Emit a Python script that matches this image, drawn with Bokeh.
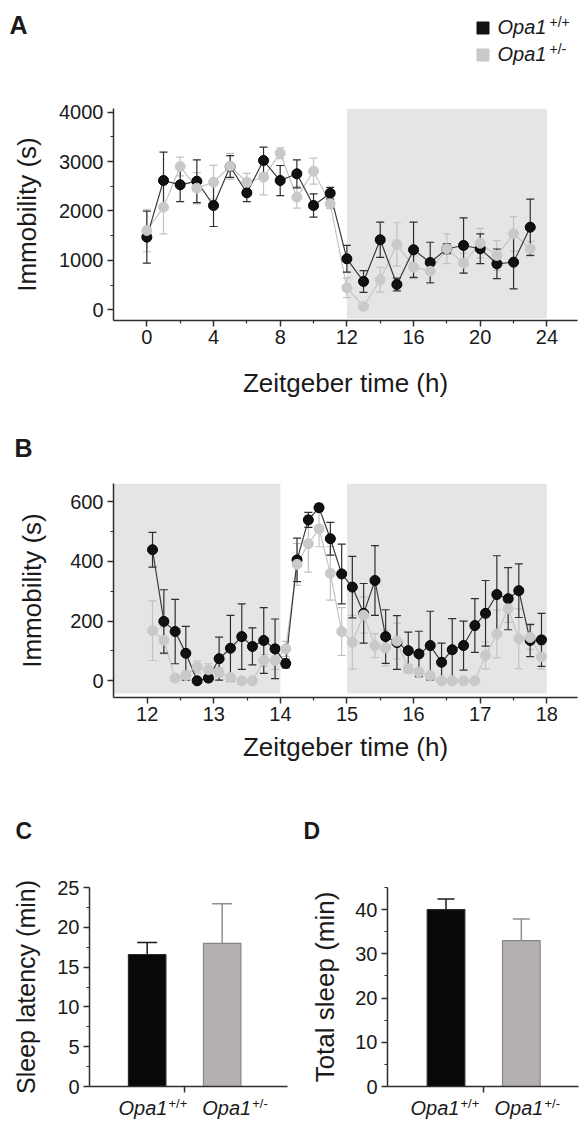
from bokeh.plotting import figure
from bokeh.models import FixedTicker
from bokeh.layouts import column, row
from bokeh.embed import file_html
from bokeh.resources import INLINE
from bokeh.core.properties import value

FONT = "Liberation Sans"

# ---------------- data ----------------
# Panel A: hourly immobility (s)
hours_a = [0, 1, 2, 3, 4, 5, 6, 7, 8, 9, 10, 11, 12, 13, 14, 15, 16, 17, 18, 19, 20, 21, 22, 23]
wt_a = [1470, 2617, 2530, 2603, 2111, 2900, 2368, 3022, 2617, 2753, 2111, 2360,
        1032, 573, 1417, 512, 1215, 957, 1235, 1302, 1235, 931, 964, 1672]
wt_a_err = [527, 573, 340, 433, 425, 220, 180, 270, 304, 283, 237, 120,
            270, 220, 356, 130, 560, 410, 100, 560, 300, 300, 540, 570]
het_a = [1605, 2077, 2901, 2462, 2583, 2907, 2583, 2684, 3170, 2279, 2806, 2146,
         445, 67, 607, 1322, 862, 781, 1235, 944, 1348, 1099, 1538, 1235]
het_a_err = [430, 540, 190, 316, 340, 260, 180, 356, 110, 220, 263, 100,
             200, 50, 250, 440, 230, 250, 300, 200, 300, 300, 350, 150]
ticks_a_x = [0, 4, 8, 12, 16, 20, 24]
ticks_a_y = [0, 1000, 2000, 3000, 4000]
dark_a = [(12, 24)]

# Panel B: 10-min bins, ZT12-18
times_b = [12.08, 12.25, 12.42, 12.58, 12.75, 12.92, 13.08, 13.25, 13.42, 13.58, 13.75, 13.92,
           14.08, 14.25, 14.42, 14.58, 14.75, 14.92, 15.08, 15.25, 15.42, 15.58, 15.75, 15.92,
           16.08, 16.25, 16.42, 16.58, 16.75, 16.92, 17.08, 17.25, 17.42, 17.58, 17.75, 17.92]
wt_b = [439, 199, 165, 92, 0, 9, 74, 109, 148, 115, 135, 107,
        58, 405, 539, 580, 476, 358, 314, 226, 336, 148, 128, 101,
        90, 118, 62, 104, 118, 185, 226, 289, 275, 302, 135, 137]
wt_b_err = [58, 106, 108, 90, 5, 10, 72, 110, 110, 62, 110, 100,
            15, 73, 25, 12, 55, 100, 103, 100, 117, 90, 90, 62,
            76, 115, 64, 104, 82, 90, 110, 130, 104, 90, 54, 89]
het_b = [168, 135, 9, 18, 46, 37, 28, 11, 0, 0, 68, 68,
         107, 390, 459, 509, 360, 165, 129, 220, 118, 110, 133, 40,
         29, 18, 0, 0, 0, 0, 85, 157, 241, 141, 145, 80]
het_b_err = [100, 45, 10, 15, 20, 20, 15, 10, 5, 5, 20, 30,
             25, 70, 95, 60, 90, 80, 90, 60, 40, 60, 60, 15,
             12, 10, 5, 5, 5, 5, 45, 80, 45, 100, 40, 40]
ticks_b_x = [12, 13, 14, 15, 16, 17, 18]
ticks_b_y = [0, 200, 400, 600]
dark_b = [(11.5, 14), (15, 18)]

# Panels C and D: bars
groups = ["Opa1", "Opa1"]
genotypes = ["+/+", "+/-"]
latency = [16.6, 18.0]
latency_err = [1.5, 5.0]
total_sleep = [40.0, 33.0]
total_sleep_err = [2.4, 4.9]
ticks_c_y = [0, 5, 10, 15, 20, 25]
ticks_d_y = [0, 10, 20, 30, 40]

BLACK = "#111111"
GRAY = "#c9c9c9"
SHADE = "#e7e5e4"
AXC = "#2e2e2e"
TXT = "#1a1a1a"


def no_align(p):
    try:
        p.frame_align = False
    except Exception:
        pass


def make_fig(w, h, xr, yr, left, right, top, bottom):
    p = figure(width=w, height=h, x_range=xr, y_range=yr, output_backend="svg",
               toolbar_location=None, title=None,
               min_border_left=left, min_border_right=right,
               min_border_top=top, min_border_bottom=bottom)
    no_align(p)
    p.xgrid.visible = False
    p.ygrid.visible = False
    p.outline_line_color = None
    for ax in (p.xaxis[0], p.yaxis[0]):
        ax.axis_line_color = AXC
        ax.axis_line_width = 1.5
        ax.major_tick_line_color = AXC
        ax.major_tick_line_width = 1.5
        ax.minor_tick_line_color = AXC
        ax.minor_tick_line_width = 1.2
        ax.major_tick_in = 0
        ax.major_tick_out = 6
        ax.minor_tick_in = 0
        ax.minor_tick_out = 3
        ax.major_label_text_font = FONT
        ax.major_label_text_font_size = "20px"
        ax.major_label_text_color = TXT
        ax.axis_label_text_font = FONT
        ax.axis_label_text_font_size = "26px"
        ax.axis_label_text_font_style = "normal"
        ax.axis_label_text_color = TXT
    p.xaxis.major_label_standoff = 3
    p.yaxis.major_label_standoff = 4
    return p


def strip(w, h, px0, py0):
    """text-only strip whose data coordinates are page pixels (y downward)"""
    p = figure(width=w, height=h, x_range=(px0, px0 + w), y_range=(py0 + h, py0),
               output_backend="svg", toolbar_location=None, title=None,
               x_axis_type=None, y_axis_type=None,
               min_border_left=0, min_border_right=0, min_border_top=0, min_border_bottom=0)
    no_align(p)
    p.outline_line_color = None
    return p


def stext(p, px, py, s, size, style="normal", color=TXT):
    # py is the wanted baseline; the rendered baseline sits about 0.4 em below the anchor
    p.text(x=[px], y=[py - 0.4 * size], text=[s], text_font=value(FONT), text_font_size=value(f"{size}px"),
           text_font_style=style, text_color=color, text_align="left", text_baseline="alphabetic")


def err_bars(p, x, y, e, color, cap, lw=1.2):
    lo = [a - b for a, b in zip(y, e)]
    hi = [a + b for a, b in zip(y, e)]
    p.segment(x0=x, y0=lo, x1=x, y1=hi, line_color=color, line_width=lw)
    p.scatter(x=list(x) + list(x), y=lo + hi, marker="dash", size=cap, line_color=color, line_width=lw)


def series_panel(p, x, wt, wt_e, het, het_e):
    err_bars(p, x, het, het_e, "#c2c2c2", 8)
    p.line(x, het, line_color="#c4c4c4", line_width=1.2)
    err_bars(p, x, wt, wt_e, "#2f2f2f", 8)
    p.line(x, wt, line_color="#3a3a3a", line_width=1.2)
    p.scatter(x, wt, size=10, fill_color=BLACK, line_color="#000000", line_width=1)
    p.scatter(x, het, size=10, fill_color=GRAY, line_color=GRAY, line_width=1)


# ---------------- Panel A ----------------
hA = strip(582, 100, 0, 0)
stext(hA, 9, 34, "A", 25, style="bold")
hA.scatter(x=[482.5, 482.5], y=[27.5, 54.5], marker="square", size=12,
           fill_color=[BLACK, GRAY], line_color=[BLACK, GRAY])
stext(hA, 497, 34, "Opa1", 20, style="italic")
stext(hA, 549, 27, genotypes[0], 14)
stext(hA, 497, 61.5, "Opa1", 20, style="italic")
stext(hA, 549, 54.5, genotypes[1], 14)

pA = make_fig(582, 320, (-2, 25.835), (-217, 4075), 113, 5, 8, 100)
for l, r in dark_a:
    pA.quad(left=[l], right=[r], bottom=[-176], top=[4075], fill_color=SHADE, line_color=None)
series_panel(pA, hours_a, wt_a, wt_a_err, het_a, het_a_err)
pA.xaxis.ticker = FixedTicker(ticks=ticks_a_x, minor_ticks=[2, 6, 10, 14, 18, 22])
pA.yaxis.ticker = FixedTicker(ticks=ticks_a_y, minor_ticks=[500, 1500, 2500, 3500])
pA.xaxis.axis_label = "Zeitgeber time (h)"
pA.yaxis.axis_label = "Immobility (s)"
pA.xaxis.axis_label_standoff = 21
pA.yaxis.axis_label_standoff = 14

# ---------------- Panel B ----------------
hB = strip(582, 58, 0, 420)
stext(hB, 14, 457, "B", 25, style="bold")

pB = make_fig(582, 312, (11.494, 18.461), (-56, 661), 113, 5, 5, 93)
for l, r in dark_b:
    pB.quad(left=[max(l, 11.494)], right=[r], bottom=[-43], top=[661], fill_color=SHADE, line_color=None)
series_panel(pB, times_b, wt_b, wt_b_err, het_b, het_b_err)
pB.xaxis.ticker = FixedTicker(ticks=ticks_b_x, minor_ticks=[12.5, 13.5, 14.5, 15.5, 16.5, 17.5])
pB.yaxis.ticker = FixedTicker(ticks=ticks_b_y, minor_ticks=[100, 300, 500])
pB.xaxis.axis_label = "Zeitgeber time (h)"
pB.yaxis.axis_label = "Immobility (s)"
pB.xaxis.axis_label_standoff = 8
pB.yaxis.axis_label_standoff = 20


# ---------------- Panels C, D ----------------
def bar_panel(w, xr, yr, left, right, y_ticks, y_minor, vals, errs, ylabel, cap):
    p = make_fig(w, 240, xr, yr, left, right, 30, 11)
    xs = [i + 1 for i in range(len(groups))]
    p.vbar(x=xs, top=vals, width=0.5, bottom=0,
           fill_color=["#080808", "#b5b0b0"], line_color=["#2a2a2a", "#8a8585"], line_width=1.2)
    for xi, v, e, c in zip(xs, vals, errs, ["#1a1a1a", "#8f8f8f"]):
        p.segment(x0=[xi], y0=[v], x1=[xi], y1=[v + e], line_color=c, line_width=1.5)
        p.scatter(x=[xi], y=[v + e], marker="dash", size=cap, line_color=c, line_width=1.5)
    p.xaxis.ticker = FixedTicker(ticks=[1.5], minor_ticks=[])
    p.xaxis.major_label_overrides = {1.5: ""}
    p.xaxis.major_label_text_font_size = "1px"
    p.xaxis.major_label_standoff = 0
    p.yaxis.ticker = FixedTicker(ticks=y_ticks, minor_ticks=y_minor)
    p.yaxis.axis_label = ylabel
    return p


hC = strip(298, 67, 0, 790)
stext(hC, 15, 839.5, "C", 23, style="bold")
pC = bar_panel(298, (0.231, 2.871), (0, 25.03), 89, 11, ticks_c_y, [2.5, 7.5, 12.5, 17.5, 22.5],
               latency, latency_err, "Sleep latency (min)", 20)
pC.yaxis.axis_label_text_font_size = "25px"
pC.yaxis.axis_label_standoff = 14
sC = strip(298, 25, 0, 1097)
for (xo, xsup), g, gt in zip([(118, 168), (201.7, 251.7)], groups, genotypes):
    stext(sC, xo, 1115, g, 20, style="italic")
    stext(sC, xsup, 1108, gt, 13)

hD = strip(284, 67, 298, 790)
stext(hD, 303, 839.5, "D", 23, style="bold")
pD = bar_panel(284, (0.223, 2.759), (0, 45.02), 89, 4, ticks_d_y, [5, 15, 25, 35, 45],
               total_sleep, total_sleep_err, "Total sleep (min)", 17)
pD.yaxis.axis_label_standoff = 12
sD = strip(284, 25, 298, 1097)
for (xo, xsup), g, gt in zip([(410, 460), (494, 544)], groups, genotypes):
    stext(sD, xo, 1115, g, 20, style="italic")
    stext(sD, xsup, 1108, gt, 13)

layout = column(hA, pA, hB, pB, row(column(hC, pC, sC), column(hD, pD, sD)))
open("out.html", "w").write(file_html(layout, INLINE))
